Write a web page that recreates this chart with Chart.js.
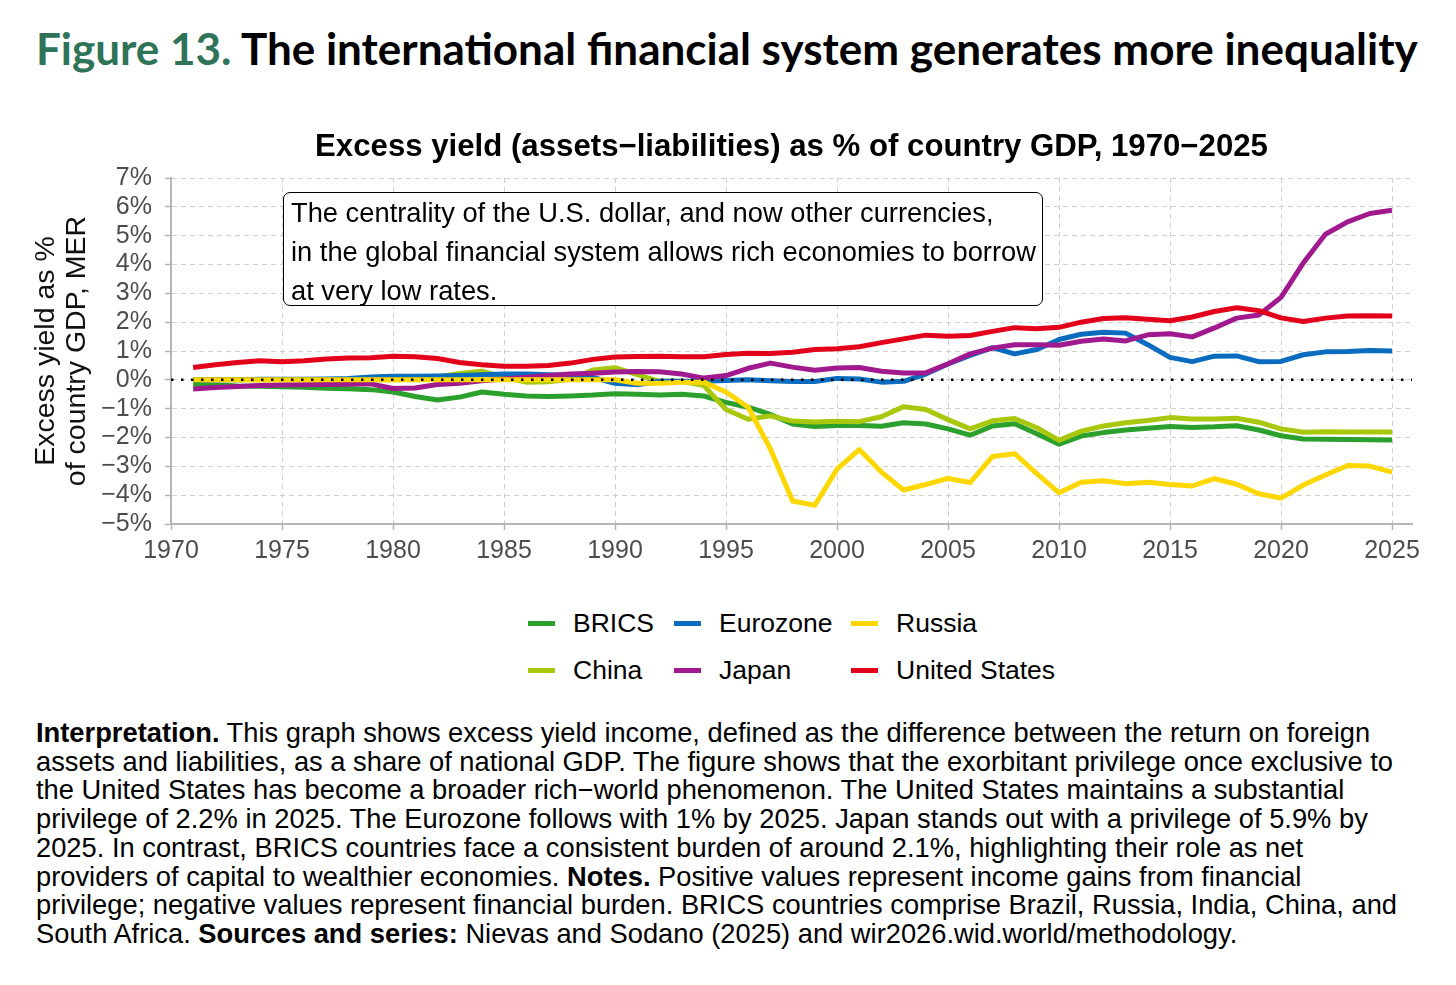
<!DOCTYPE html>
<html lang="en">
<head>
<meta charset="UTF-8">
<title>Figure 13 - Excess yield</title>
<script src="https://cdn.jsdelivr.net/npm/chart.js"></script>
<style>
    html, body { margin: 0; padding: 0; background: #fff; }
    body {
        width: 1456px; height: 985px; position: relative; overflow: hidden;
        font-family: "Liberation Sans", Arial, sans-serif; color: #000;
    }
    #figTitle {
        position: absolute; left: 36px; top: 22px; white-space: nowrap;
        font-family: Lato, sans-serif; font-weight: 700; font-size: 44px; line-height: 52px;
    }
    #figTitle .num { color: #2f7358; }
    #chartTitle {
        position: absolute; left: 171px; width: 1241px; top: 127px; text-align: center;
        font-size: 31.2px; font-weight: bold; line-height: 38px; white-space: nowrap;
    }
    #chartBox { position: absolute; left: 0; top: 110px; width: 1456px; height: 467px; }
    #note {
        position: absolute; left: 283px; top: 192px; width: 760px; height: 114px;
        box-sizing: border-box; border: 1.5px solid #000; border-radius: 7px; background: #fff;
        font-size: 27.3px; line-height: 39px; padding: 0 0 0 7px; white-space: nowrap;
    }
    #legend {
        position: absolute; left: 528px; top: 600px;
        display: grid; grid-template-columns: 146px 177px auto;
    }
    .item { display: flex; align-items: center; height: 47px; font-size: 26.5px; white-space: nowrap; }
    .swatch { width: 27px; height: 5px; margin-right: 18px; }
    #foot {
        position: absolute; left: 36px; top: 719px; font-size: 27.3px; line-height: 28.7px;
        white-space: nowrap;
    }
</style>
</head>
<body>
<div id="figTitle"><span class="num">Figure 13.</span> The international financial system generates more inequality</div>
<div id="chartBox"><canvas id="chart"></canvas></div>
<div id="chartTitle">Excess yield (assets−liabilities) as % of country GDP, 1970−2025</div>
<div id="note">The centrality of the U.S. dollar, and now other currencies,<br>in the global financial system allows rich economies to borrow<br>at very low rates.</div>
<div id="legend"></div>
<div id="foot">
<b>Interpretation.</b> This graph shows excess yield income, defined as the difference between the return on foreign<br>
assets and liabilities, as a share of national GDP. The figure shows that the exorbitant privilege once exclusive to<br>
the United States has become a broader rich−world phenomenon. The United States maintains a substantial<br>
privilege of 2.2% in 2025. The Eurozone follows with 1% by 2025. Japan stands out with a privilege of 5.9% by<br>
2025. In contrast, BRICS countries face a consistent burden of around 2.1%, highlighting their role as net<br>
providers of capital to wealthier economies. <b>Notes.</b> Positive values represent income gains from financial<br>
privilege; negative values represent financial burden. BRICS countries comprise Brazil, Russia, India, China, and<br>
South Africa. <b>Sources and series:</b> Nievas and Sodano (2025) and wir2026.wid.world/methodology.
</div>

<script>
    // years 1971-2025, values in % of GDP
    const years = [];
    for (let y = 1971; y <= 2025; y++) years.push(y);

    const brics = [
        -0.15, -0.18, -0.21, -0.22, -0.24, -0.26, -0.29, -0.31, -0.34, -0.42,
        -0.58, -0.70, -0.60, -0.42, -0.50, -0.56, -0.58, -0.56, -0.53, -0.48,
        -0.50, -0.53, -0.50, -0.56, -0.78, -0.95, -1.20, -1.53, -1.62, -1.58,
        -1.58, -1.61, -1.49, -1.53, -1.70, -1.92, -1.60, -1.52, -1.87, -2.23,
        -1.95, -1.83, -1.74, -1.68, -1.62, -1.65, -1.63, -1.59, -1.74, -1.94,
        -2.05, -2.06, -2.07, -2.08, -2.09
    ];
    const china = [
        0.00, 0.00, 0.00, 0.00, 0.00, 0.00, 0.00, 0.00, 0.00, 0.00,
        0.02, 0.10, 0.22, 0.30, 0.08, -0.08, -0.07, 0.02, 0.34, 0.42,
        0.18, -0.05, -0.05, -0.20, -1.03, -1.37, -1.25, -1.43, -1.46, -1.44,
        -1.45, -1.28, -0.93, -1.03, -1.38, -1.70, -1.42, -1.34, -1.66, -2.10,
        -1.78, -1.60, -1.49, -1.41, -1.31, -1.36, -1.36, -1.33, -1.47, -1.70,
        -1.82, -1.80, -1.81, -1.81, -1.81
    ];
    const eurozone = [
        0.00, 0.00, 0.00, 0.02, 0.02, 0.02, 0.03, 0.05, 0.10, 0.12,
        0.12, 0.13, 0.15, 0.18, 0.20, 0.20, 0.18, 0.15, 0.08, -0.12,
        -0.17, -0.05, -0.05, -0.05, -0.02, 0.00, -0.03, -0.06, -0.06, 0.05,
        0.03, -0.08, -0.05, 0.20, 0.55, 0.85, 1.12, 0.90, 1.05, 1.40,
        1.58, 1.65, 1.62, 1.22, 0.78, 0.63, 0.82, 0.83, 0.63, 0.64,
        0.87, 0.97, 0.98, 1.02, 1.00
    ];
    const japan = [
        -0.32, -0.27, -0.23, -0.20, -0.18, -0.17, -0.16, -0.15, -0.14, -0.30,
        -0.28, -0.16, -0.12, -0.03, 0.03, 0.09, 0.15, 0.20, 0.23, 0.27,
        0.29, 0.28, 0.20, 0.06, 0.15, 0.40, 0.58, 0.44, 0.33, 0.41,
        0.43, 0.30, 0.24, 0.24, 0.56, 0.90, 1.10, 1.22, 1.22, 1.20,
        1.34, 1.42, 1.35, 1.56, 1.60, 1.49, 1.80, 2.14, 2.25, 2.86,
        4.05, 5.05, 5.48, 5.77, 5.88
    ];
    const russia = [
        0.00, 0.00, 0.00, 0.00, 0.00, 0.00, 0.00, 0.00, 0.00, 0.00,
        0.00, 0.00, 0.00, 0.00, 0.00, 0.00, 0.00, 0.00, 0.00, 0.00,
        -0.12, -0.12, -0.08, -0.08, -0.42, -0.95, -2.40, -4.20, -4.35, -3.10,
        -2.42, -3.20, -3.82, -3.63, -3.42, -3.56, -2.66, -2.56, -3.25, -3.92,
        -3.55, -3.50, -3.60, -3.55, -3.63, -3.68, -3.43, -3.62, -3.95, -4.10,
        -3.65, -3.30, -2.97, -2.99, -3.20
    ];
    const unitedStates = [
        0.43, 0.52, 0.60, 0.66, 0.63, 0.66, 0.72, 0.76, 0.77, 0.82,
        0.80, 0.74, 0.60, 0.52, 0.47, 0.47, 0.50, 0.58, 0.71, 0.79,
        0.81, 0.82, 0.80, 0.80, 0.88, 0.92, 0.91, 0.96, 1.05, 1.08,
        1.15, 1.29, 1.42, 1.55, 1.51, 1.54, 1.68, 1.81, 1.77, 1.82,
        2.00, 2.13, 2.15, 2.10, 2.05, 2.18, 2.37, 2.50, 2.40, 2.15,
        2.02, 2.14, 2.21, 2.22, 2.21
    ];

    const seriesNames = ['BRICS', 'Eurozone', 'Russia', 'China', 'Japan', 'United States'];
    const seriesColors = ['#2ca02c', '#0a6cbf', '#ffd700', '#a9c80d', '#a0198f', '#e3001b'];
    const seriesValues = [brics, eurozone, russia, china, japan, unitedStates];

    const xTicks = [1970, 1975, 1980, 1985, 1990, 1995, 2000, 2005, 2010, 2015, 2020, 2025];
    const xMin = 1970, xMax = 2025.9;
    const yMin = -5, yMax = 7;
    const zeroLine = [0, 0];

    // draw order: BRICS at the bottom ... United States on top, dotted zero line above all
    const drawOrder = ['United States', 'Russia', 'Japan', 'Eurozone', 'China', 'BRICS'];

    const datasets = [{
        label: 'zero',
        data: [{ x: xMin, y: zeroLine[0] }, { x: xMax, y: zeroLine[1] }],
        borderColor: '#000',
        borderWidth: 2.5,
        borderDash: [2.5, 7.5],
        pointRadius: 0,
        fill: false
    }];
    drawOrder.forEach(name => {
        const i = seriesNames.indexOf(name);
        datasets.push({
            label: name,
            data: years.map((yr, k) => ({ x: yr, y: seriesValues[i][k] })),
            borderColor: seriesColors[i],
            borderWidth: 5,
            pointRadius: 0,
            tension: 0,
            borderJoinStyle: 'round',
            borderCapStyle: 'butt',
            fill: false
        });
    });

    // legend laid out in columns like the original
    const legend = document.getElementById('legend');
    seriesNames.forEach((name, i) => {
        const item = document.createElement('div');
        item.className = 'item';
        item.innerHTML = `<span class="swatch" style="background:${seriesColors[i]}"></span>${name}`;
        legend.appendChild(item);
    });

    const axisGrey = '#b5b5b5';
    const gridGrey = '#d0d0d0';
    const tickText = '#4d4d4d';

    new Chart(document.getElementById('chart').getContext('2d'), {
        type: 'line',
        data: { datasets: datasets },
        options: {
            responsive: true,
            maintainAspectRatio: false,
            animation: false,
            layout: { padding: { left: 0, right: 44, top: 68, bottom: 5 } },
            plugins: {
                legend: { display: false },
                tooltip: { enabled: false },
                title: { display: false }
            },
            scales: {
                x: {
                    type: 'linear',
                    min: xMin,
                    max: xMax,
                    afterBuildTicks: scale => { scale.ticks = xTicks.map(v => ({ value: v })); },
                    ticks: {
                        color: tickText,
                        font: { family: '"Liberation Sans", Arial, sans-serif', size: 25 },
                        padding: 6,
                        maxRotation: 0,
                        autoSkip: false,
                        callback: v => String(v)
                    },
                    grid: { color: gridGrey, lineWidth: 1, tickLength: 6, tickColor: axisGrey, tickWidth: 1.5, tickBorderDash: [] },
                    border: { color: axisGrey, width: 2, dash: [5, 4] }
                },
                y: {
                    min: yMin,
                    max: yMax,
                    afterFit: scale => { scale.width = 171; },
                    ticks: {
                        stepSize: 1,
                        autoSkip: false,
                        color: tickText,
                        font: { family: '"Liberation Sans", Arial, sans-serif', size: 25 },
                        padding: 13,
                        callback: v => (v < 0 ? '\u2212' : '') + Math.abs(v) + '%'
                    },
                    grid: { color: gridGrey, lineWidth: 1, tickLength: 6, tickColor: axisGrey, tickWidth: 1.5, tickBorderDash: [] },
                    border: { color: axisGrey, width: 2, dash: [5, 4] },
                    title: {
                        display: true,
                        text: ['Excess yield as %', 'of country GDP, MER'],
                        color: '#111',
                        font: { family: '"Liberation Sans", Arial, sans-serif', size: 28.5, lineHeight: 1.1 },
                        padding: { top: 30, bottom: 0 }
                    }
                }
            }
        }
    });
</script>
</body>
</html>
